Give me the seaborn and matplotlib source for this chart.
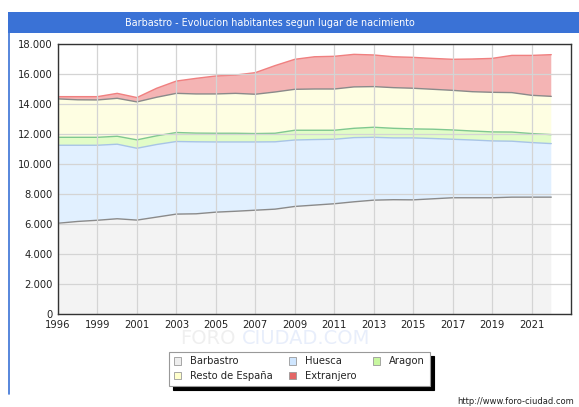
import numpy as np
import pandas as pd
import matplotlib
matplotlib.use("Agg")
import matplotlib.pyplot as plt
import seaborn as sns
from matplotlib.patches import Rectangle
from matplotlib.lines import Line2D

years = ["1996", "1998", "1999", "2000", "2001", "2002", "2003", "2004", "2005",
         "2006", "2007", "2008", "2009", "2010", "2011", "2012", "2013", "2014",
         "2015", "2016", "2017", "2018", "2019", "2020", "2021", "2022"]

barbastro = [6050, 6170, 6250, 6350, 6260, 6460, 6660, 6680, 6790, 6850, 6920, 6990,
             7170, 7260, 7350, 7480, 7590, 7620, 7610, 7680, 7750, 7750, 7750, 7790,
             7790, 7790]
huesca = [5200, 5080, 5000, 4970, 4790, 4840, 4840, 4800, 4680, 4620, 4550, 4490,
          4430, 4370, 4300, 4280, 4190, 4120, 4130, 4020, 3900, 3850, 3790, 3730,
          3640, 3570]
aragon = [530, 530, 530, 530, 560, 580, 600, 580, 580, 580, 560, 570,
          650, 620, 600, 620, 670, 640, 600, 620, 620, 600, 600, 610,
          600, 600]
resto = [2560, 2500, 2490, 2530, 2530, 2570, 2610, 2610, 2620, 2660, 2620, 2750,
         2730, 2750, 2750, 2760, 2710, 2710, 2710, 2660, 2640, 2620, 2640, 2630,
         2550, 2550]
extranjero = [150, 210, 220, 330, 290, 600, 820, 1040, 1200, 1220, 1440, 1760,
              2000, 2150, 2180, 2170, 2110, 2060, 2060, 2060, 2070, 2180, 2260, 2480,
              2660, 2780]

series_names = ["Barbastro", "Huesca", "Aragon", "Resto de España", "Extranjero"]
fill_colors = ["#f3f3f3", "#e1f0ff", "#e2fcc8", "#fefee2", "#f4b4b4"]
line_colors = ["#8a8a8a", "#a8c4e6", "#80c890", "#8a8a8a", "#f08080"]
legend_colors = ["#eeeeee", "#cfe6ff", "#c8f7a0", "#ffffcc", "#e46666"]

x_tick_labels = ["1996", "1999", "2001", "2003", "2005", "2007", "2009",
                 "2011", "2013", "2015", "2017", "2019", "2021"]
y_ticks = [0, 2000, 4000, 6000, 8000, 10000, 12000, 14000, 16000, 18000]
y_tick_labels = ["0", "2.000", "4.000", "6.000", "8.000", "10.000", "12.000",
                 "14.000", "16.000", "18.000"]

sns.set_theme(style="white")
plt.rcParams['font.family'] = ['DejaVu Sans']

fig = plt.figure(figsize=(5.79, 4.07), dpi=100)
fig.patch.set_facecolor("white")

# frame & title bar
fig.add_artist(Rectangle((8 / 579, 1 - 33 / 407), 571 / 579, 21 / 407,
                         transform=fig.transFigure, facecolor="#3a72d6",
                         edgecolor="none", zorder=0))
fig.add_artist(Line2D([8.5 / 579, 8.5 / 579], [1 - 33 / 407, 1 - 394 / 407],
                      transform=fig.transFigure, color="#3a72d6", lw=1.2))
fig.text(270 / 579, 1 - 22.5 / 407,
         "Barbastro - Evolucion habitantes segun lugar de nacimiento",
         color="white", fontsize=6.9, ha="center", va="center")

# watermark (drawn first, behind everything)
fig.text(236 / 579, 1 - 338 / 407, "FORO", color="#efefef", fontsize=14,
         ha="right", va="center", zorder=0)
fig.text(242 / 579, 1 - 338 / 407, "CIUDAD.COM", color="#e8eefb", fontsize=14,
         ha="left", va="center", zorder=0)

ax = fig.add_axes([58 / 579, 1 - 314 / 407, 513 / 579, 270 / 407])
ax.set_facecolor("white")

x = np.arange(len(years))
df = pd.DataFrame({"x": x, "Barbastro": barbastro, "Huesca": huesca,
                   "Aragon": aragon, "Resto de España": resto,
                   "Extranjero": extranjero})
cum = df[series_names].cumsum(axis=1)

lower = np.zeros(len(x))
for name, fc, lc in zip(series_names, fill_colors, line_colors):
    upper = cum[name].values
    ax.fill_between(x, lower, upper, facecolor=fc, edgecolor="none", zorder=1)
    sns.lineplot(x=x, y=upper, ax=ax, color=lc, lw=1.0, zorder=2, legend=False)
    lower = upper

ax.set_xlim(0, 26)
ax.set_ylim(0, 18000)
ax.set_xticks(list(range(0, 25, 2)))
ax.set_xticklabels(x_tick_labels)
ax.set_yticks(y_ticks)
ax.set_yticklabels(y_tick_labels)
ax.tick_params(axis="both", labelsize=7.2, length=0, pad=4, colors="#222222")
ax.grid(True, color="#d4d4d4", lw=0.9, zorder=3)
ax.set_axisbelow(False)
for s in ax.spines.values():
    s.set_color("#333333")
    s.set_linewidth(1.0)
    s.set_zorder(5)

# legend (row-major order for 3 columns)
handles = {n: Rectangle((0, 0), 1, 1, facecolor=c, edgecolor="#999999", lw=0.6)
           for n, c in zip(series_names, legend_colors)}
order = ["Barbastro", "Resto de España", "Huesca", "Extranjero", "Aragon"]
leg = fig.legend([handles[n] for n in order], order, ncol=3, loc="upper left",
                 bbox_to_anchor=(164 / 579, 1 - 347 / 407), fontsize=7.2,
                 frameon=True, fancybox=False,
                 shadow={"color": "black", "alpha": 1.0, "ox": 3, "oy": -3},
                 handlelength=0.75, handleheight=0.75, columnspacing=1.6,
                 handletextpad=0.9, borderpad=0.45, labelspacing=0.45,
                 framealpha=1.0)
leg.get_frame().set_edgecolor("#999999")
leg.get_frame().set_linewidth(0.8)
leg.get_frame().set_facecolor("white")

fig.text(574 / 579, 1 - 401 / 407, "http://www.foro-ciudad.com", fontsize=6,
         ha="right", va="center", color="#222222")

fig.savefig("out.png", dpi=100)
